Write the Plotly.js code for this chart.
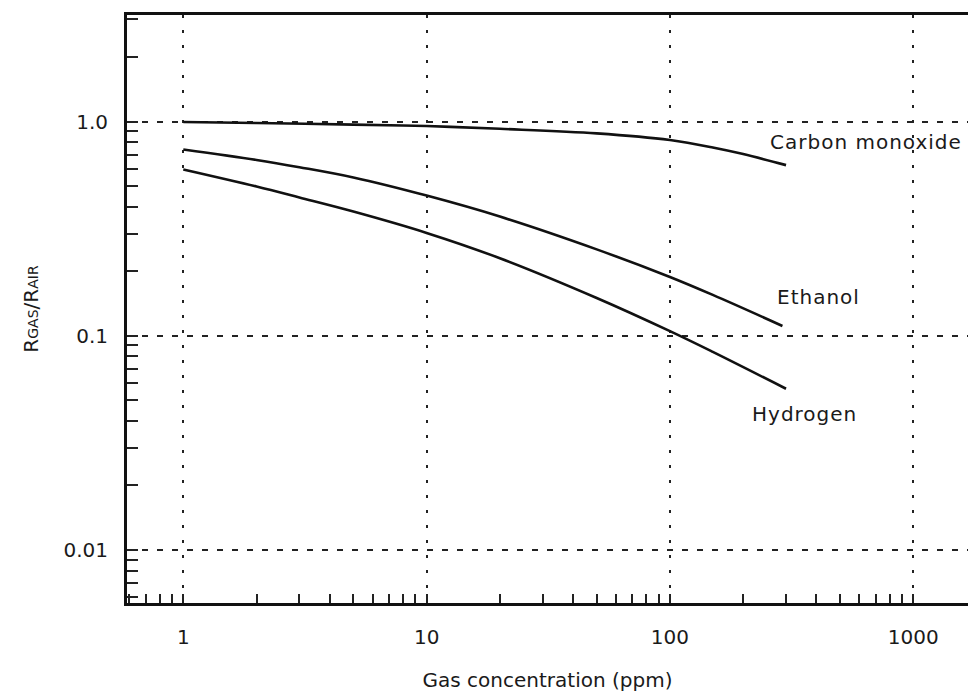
<!DOCTYPE html>
<html>
<head>
<meta charset="utf-8">
<script src="https://cdn.plot.ly/plotly-3.0.1.min.js"></script>
<style>
html,body{margin:0;padding:0;background:#fff;}
#chart{width:968px;height:692px;}
.annotation-text{letter-spacing:1px;}
</style>
</head>
<body>
<div id="chart"></div>
<script>
// Gas concentration (ppm) and Rgas/Rair
const coX  = [1, 2, 5, 10, 20, 50, 100, 150, 200, 300];
const coY  = [0.995, 0.985, 0.968, 0.953, 0.925, 0.881, 0.82, 0.757, 0.705, 0.626];
const ethX = [1, 2, 3, 5, 10, 20, 50, 100, 150, 290];
const ethY = [0.741, 0.662, 0.612, 0.548, 0.451, 0.36, 0.253, 0.188, 0.155, 0.111];
const h2X  = [1, 2, 3, 5, 10, 20, 50, 100, 150, 300];
const h2Y  = [0.597, 0.497, 0.442, 0.380, 0.302, 0.230, 0.150, 0.105, 0.084, 0.0565];

const seriesNames = ['Carbon monoxide', 'Ethanol', 'Hydrogen'];
const labelX = [253, 270, 213];          // label anchor (ppm)
const labelY = [0.802, 0.152, 0.043];    // label anchor (ratio)

const xTickVals = [1, 10, 100, 1000];
const xTickText = ['1', '10', '100', '1000'];
const yTickVals = [1, 0.1, 0.01];
const yTickText = ['1.0', '0.1', '0.01'];

const FONT = 'DejaVu Sans, sans-serif';
const INK = '#1a1a1a';

const lineStyle = {color: '#111', width: 2.6, shape: 'spline', smoothing: 1};
const traces = [
  {x: coX, y: coY, name: seriesNames[0], mode: 'lines', line: lineStyle},
  {x: ethX, y: ethY, name: seriesNames[1], mode: 'lines', line: lineStyle},
  {x: h2X, y: h2Y, name: seriesNames[2], mode: 'lines', line: lineStyle}
];

const annotations = seriesNames.map((n, i) => ({
  text: n, x: Math.log10(labelX[i]), y: Math.log10(labelY[i]),
  xref: 'x', yref: 'y', xanchor: 'left', yanchor: 'middle',
  showarrow: false, font: {family: FONT, size: 20, color: INK}
}));

const layout = {
  width: 968, height: 692,
  margin: {l: 127, r: 0, t: 15, b: 89},
  paper_bgcolor: '#fff', plot_bgcolor: '#fff',
  showlegend: false,
  font: {family: FONT, size: 20, color: INK},
  xaxis: {
    type: 'log', range: [-0.2314, 3.225],
    tickmode: 'array', tickvals: xTickVals, ticktext: xTickText,
    ticks: '', ticklabelstandoff: 14,
    showline: true, linecolor: '#111', linewidth: 3, mirror: true,
    showgrid: true, gridcolor: '#222', gridwidth: 2, griddash: '3px,12px',
    zeroline: false,
    minor: {dtick: 'D1', ticks: 'inside', ticklen: 9, tickwidth: 2, tickcolor: '#222', showgrid: false},
    title: {text: 'Gas concentration (ppm)', font: {family: FONT, size: 20, color: INK}, standoff: 28},
    tickfont: {family: FONT, size: 20, color: INK}
  },
  yaxis: {
    type: 'log', range: [-2.2486, 0.4977],
    tickmode: 'array', tickvals: yTickVals, ticktext: yTickText,
    ticks: '', ticklabelstandoff: 12,
    showline: true, linecolor: '#111', linewidth: 3, mirror: false,
    showgrid: true, gridcolor: '#222', gridwidth: 2, griddash: '6px,9px',
    zeroline: false,
    minor: {dtick: 'D1', ticks: 'inside', ticklen: 11, tickwidth: 2, tickcolor: '#222', showgrid: false},
    title: {text: 'R<span style="font-size:14px">GAS</span>/R<span style="font-size:14px">AIR</span>',
            font: {family: FONT, size: 20, color: INK}, standoff: 20},
    tickfont: {family: FONT, size: 20, color: INK}
  },
  annotations: annotations
};

Plotly.newPlot('chart', traces, layout, {staticPlot: true, displayModeBar: false});
</script>
</body>
</html>
